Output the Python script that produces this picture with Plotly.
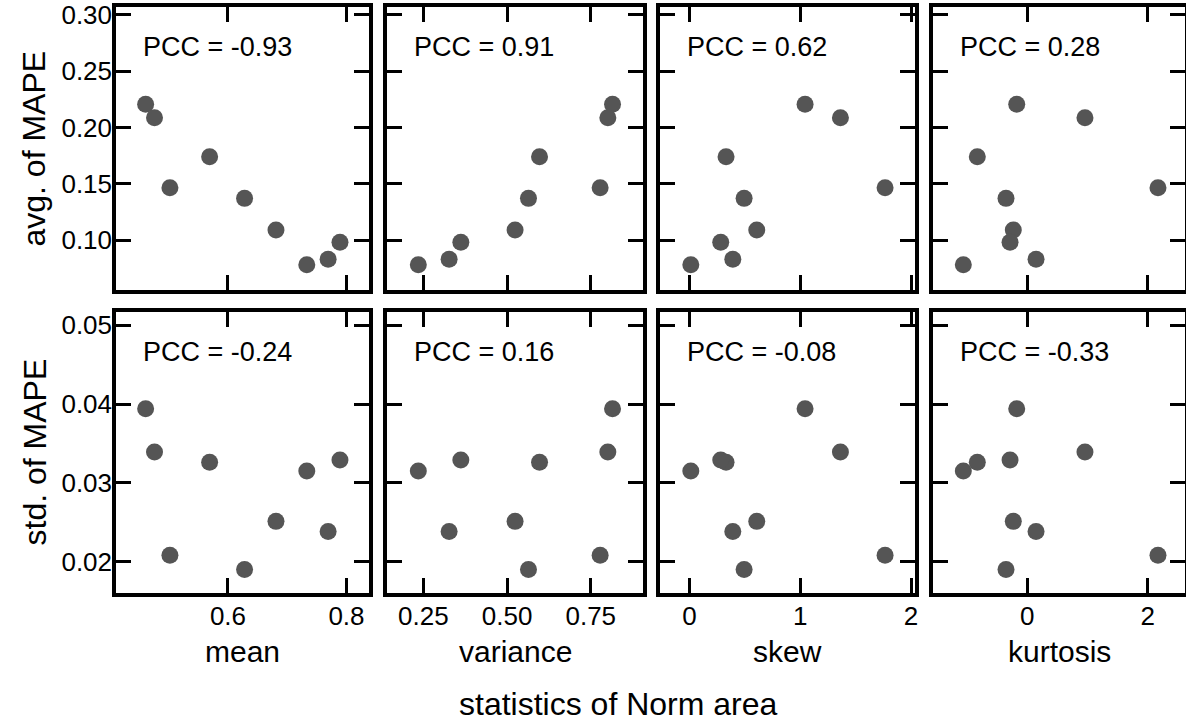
import plotly.graph_objects as go

# ---------------- data ----------------
stat_names = ["mean", "variance", "skew", "kurtosis"]
mean_vals = [0.461, 0.476, 0.502, 0.569, 0.628, 0.681, 0.733, 0.769, 0.789]
variance_vals = [0.815, 0.801, 0.778, 0.597, 0.564, 0.524, 0.235, 0.327, 0.362]
skew_vals = [1.044, 1.363, 1.766, 0.331, 0.494, 0.608, 0.013, 0.392, 0.283]
kurtosis_vals = [-0.176, 0.958, 2.171, -0.831, -0.354, -0.233, -1.063, 0.145, -0.287]
avg_mape = [0.2206, 0.2087, 0.1465, 0.174, 0.137, 0.109, 0.078, 0.083, 0.098]
std_mape = [0.0394, 0.0339, 0.0208, 0.0326, 0.0190, 0.0251, 0.0315, 0.0238, 0.0329]
pcc_avg = ["-0.93", "0.91", "0.62", "0.28"]
pcc_std = ["-0.24", "0.16", "-0.08", "-0.33"]
row_titles = ["avg. of MAPE", "std. of MAPE"]
x_title = "statistics of Norm area"

# ---------------- layout geometry (pixels) ----------------
W, H = 1186, 724
col_px = [(116, 369), (387, 643), (660, 915), (933, 1185)]
row_px = [(7, 290), (312, 593)]
x_ranges = [[0.411, 0.838], [0.1415, 0.906], [-0.265, 2.036], [-1.567, 2.62]]
x_dticks = [0.2, 0.25, 1, 2]
x_formats = [".1f", ".2f", "d", "d"]
y_ranges = [[0.0556, 0.307], [0.0160, 0.0517]]
y_dticks = [0.05, 0.01]
y_formats = [".2f", ".2f"]

FONT = "Liberation Sans, Arial, sans-serif"
FS_TICK = 26
FS_PCC = 27
FS_COL = 30
FS_ROW = 32
MARK = "#555555"

xs = [mean_vals, variance_vals, skew_vals, kurtosis_vals]
ys = [avg_mape, std_mape]
pccs = [pcc_avg, pcc_std]

fig = go.Figure()
layout = {}
annotations = []
n = 0
for r in range(2):
    for c in range(4):
        n += 1
        xa = "x" if n == 1 else f"x{n}"
        ya = "y" if n == 1 else f"y{n}"
        fig.add_trace(go.Scatter(
            x=xs[c], y=ys[r], mode="markers", xaxis=xa, yaxis=ya,
            marker=dict(size=17, color=MARK, line=dict(width=0)),
            showlegend=False, hoverinfo="skip"))
        x0, x1 = col_px[c]
        t0, t1 = row_px[r]
        common = dict(showline=True, linecolor="black", linewidth=3.5,
                      mirror="allticks", ticks="inside", ticklen=15,
                      tickwidth=3, tickcolor="black", showgrid=False,
                      zeroline=False, automargin=False,
                      ticklabeloverflow="allow",
                      tickfont=dict(family=FONT, size=FS_TICK, color="black"))
        layout["xaxis" if n == 1 else f"xaxis{n}"] = dict(
            domain=[x0 / W, x1 / W], range=x_ranges[c],
            dtick=x_dticks[c], tick0=0, tickformat=x_formats[c],
            showticklabels=(r == 1), anchor=ya, ticklabelstandoff=-3, **common)
        layout["yaxis" if n == 1 else f"yaxis{n}"] = dict(
            domain=[1 - t1 / H, 1 - t0 / H], range=y_ranges[r],
            dtick=y_dticks[r], tick0=0, tickformat=y_formats[r],
            showticklabels=(c == 0), anchor=xa, ticklabelstandoff=-5, **common)
        annotations.append(dict(
            x=(x0 + 25) / W, y=1 - (t0 + 40) / H, xref="paper", yref="paper",
            text=f"PCC = {pccs[r][c]}", showarrow=False,
            xanchor="left", yanchor="middle",
            font=dict(family=FONT, size=FS_PCC, color="black")))

for c in range(4):
    x0, x1 = col_px[c]
    annotations.append(dict(
        x=(x0 + x1) / 2 / W, y=1 - 651 / H, xref="paper", yref="paper",
        text=stat_names[c], showarrow=False, xanchor="center", yanchor="middle",
        font=dict(family=FONT, size=FS_COL, color="black")))

for r in range(2):
    t0, t1 = row_px[r]
    annotations.append(dict(
        x=34 / W, y=1 - (t0 + t1) / 2 / H, xref="paper", yref="paper",
        text=row_titles[r], showarrow=False, textangle=-90,
        xanchor="center", yanchor="middle",
        font=dict(family=FONT, size=FS_ROW, color="black")))

annotations.append(dict(
    x=618 / W, y=1 - 704 / H, xref="paper", yref="paper",
    text=x_title, showarrow=False, xanchor="center", yanchor="middle",
    font=dict(family=FONT, size=FS_ROW, color="black")))

fig.update_layout(
    width=W, height=H, margin=dict(l=0, r=0, t=0, b=0),
    paper_bgcolor="white", plot_bgcolor="white",
    annotations=annotations, **layout)

fig.write_html("out.html")
